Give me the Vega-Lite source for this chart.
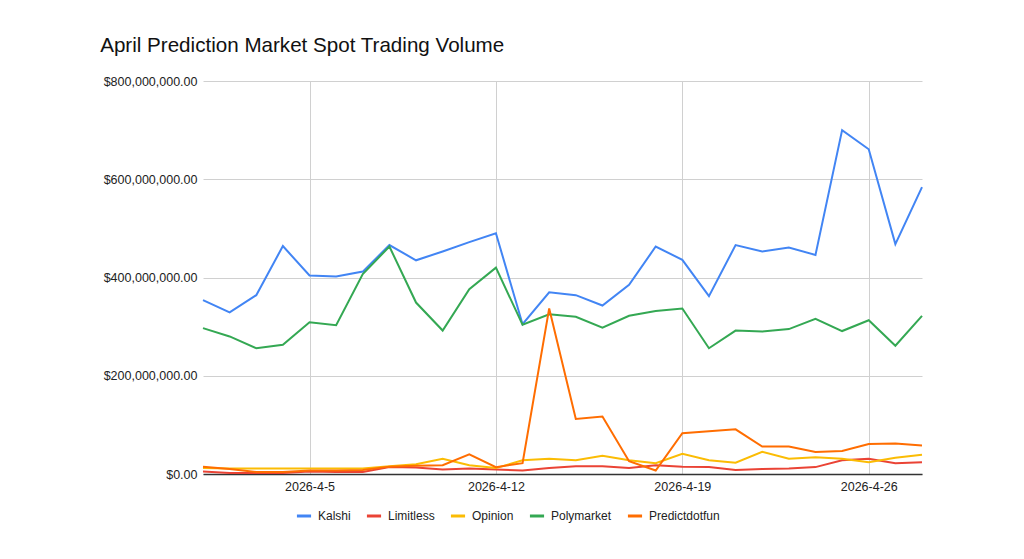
{
  "$schema": "https://vega.github.io/schema/vega-lite/v6.json",
  "width": 719,
  "height": 393,
  "autosize": {"type": "none"},
  "padding": {"left": 203, "top": 81, "right": 102, "bottom": 85},
  "background": "white",
  "title": {
    "text": "April Prediction Market Spot Trading Volume",
    "anchor": "start",
    "dx": -3,
    "offset": 18,
    "font": "Liberation Sans",
    "fontSize": 20.6,
    "fontWeight": "normal",
    "color": "#111"
  },
  "data": {
    "values": [
      {"date": "2026-04-01", "series": "Kalshi", "volume": 354000000},
      {"date": "2026-04-02", "series": "Kalshi", "volume": 329000000},
      {"date": "2026-04-03", "series": "Kalshi", "volume": 364000000},
      {"date": "2026-04-04", "series": "Kalshi", "volume": 464000000},
      {"date": "2026-04-05", "series": "Kalshi", "volume": 404000000},
      {"date": "2026-04-06", "series": "Kalshi", "volume": 402000000},
      {"date": "2026-04-07", "series": "Kalshi", "volume": 412000000},
      {"date": "2026-04-08", "series": "Kalshi", "volume": 466000000},
      {"date": "2026-04-09", "series": "Kalshi", "volume": 435000000},
      {"date": "2026-04-10", "series": "Kalshi", "volume": 453000000},
      {"date": "2026-04-11", "series": "Kalshi", "volume": 472000000},
      {"date": "2026-04-12", "series": "Kalshi", "volume": 490000000},
      {"date": "2026-04-13", "series": "Kalshi", "volume": 305000000},
      {"date": "2026-04-14", "series": "Kalshi", "volume": 370000000},
      {"date": "2026-04-15", "series": "Kalshi", "volume": 364000000},
      {"date": "2026-04-16", "series": "Kalshi", "volume": 343000000},
      {"date": "2026-04-17", "series": "Kalshi", "volume": 385000000},
      {"date": "2026-04-18", "series": "Kalshi", "volume": 463000000},
      {"date": "2026-04-19", "series": "Kalshi", "volume": 436000000},
      {"date": "2026-04-20", "series": "Kalshi", "volume": 362000000},
      {"date": "2026-04-21", "series": "Kalshi", "volume": 466000000},
      {"date": "2026-04-22", "series": "Kalshi", "volume": 453000000},
      {"date": "2026-04-23", "series": "Kalshi", "volume": 461000000},
      {"date": "2026-04-24", "series": "Kalshi", "volume": 446000000},
      {"date": "2026-04-25", "series": "Kalshi", "volume": 700000000},
      {"date": "2026-04-26", "series": "Kalshi", "volume": 661000000},
      {"date": "2026-04-27", "series": "Kalshi", "volume": 468000000},
      {"date": "2026-04-28", "series": "Kalshi", "volume": 584000000},
      {"date": "2026-04-01", "series": "Limitless", "volume": 5000000},
      {"date": "2026-04-02", "series": "Limitless", "volume": 2000000},
      {"date": "2026-04-03", "series": "Limitless", "volume": 2000000},
      {"date": "2026-04-04", "series": "Limitless", "volume": 2000000},
      {"date": "2026-04-05", "series": "Limitless", "volume": 5000000},
      {"date": "2026-04-06", "series": "Limitless", "volume": 4000000},
      {"date": "2026-04-07", "series": "Limitless", "volume": 4000000},
      {"date": "2026-04-08", "series": "Limitless", "volume": 14000000},
      {"date": "2026-04-09", "series": "Limitless", "volume": 13000000},
      {"date": "2026-04-10", "series": "Limitless", "volume": 9000000},
      {"date": "2026-04-11", "series": "Limitless", "volume": 11000000},
      {"date": "2026-04-12", "series": "Limitless", "volume": 9000000},
      {"date": "2026-04-13", "series": "Limitless", "volume": 7000000},
      {"date": "2026-04-14", "series": "Limitless", "volume": 12000000},
      {"date": "2026-04-15", "series": "Limitless", "volume": 16000000},
      {"date": "2026-04-16", "series": "Limitless", "volume": 16000000},
      {"date": "2026-04-17", "series": "Limitless", "volume": 12000000},
      {"date": "2026-04-18", "series": "Limitless", "volume": 18000000},
      {"date": "2026-04-19", "series": "Limitless", "volume": 15000000},
      {"date": "2026-04-20", "series": "Limitless", "volume": 14000000},
      {"date": "2026-04-21", "series": "Limitless", "volume": 8000000},
      {"date": "2026-04-22", "series": "Limitless", "volume": 10000000},
      {"date": "2026-04-23", "series": "Limitless", "volume": 11000000},
      {"date": "2026-04-24", "series": "Limitless", "volume": 14000000},
      {"date": "2026-04-25", "series": "Limitless", "volume": 28000000},
      {"date": "2026-04-26", "series": "Limitless", "volume": 31000000},
      {"date": "2026-04-27", "series": "Limitless", "volume": 22000000},
      {"date": "2026-04-28", "series": "Limitless", "volume": 24000000},
      {"date": "2026-04-01", "series": "Opinion", "volume": 12000000},
      {"date": "2026-04-02", "series": "Opinion", "volume": 11000000},
      {"date": "2026-04-03", "series": "Opinion", "volume": 11000000},
      {"date": "2026-04-04", "series": "Opinion", "volume": 11000000},
      {"date": "2026-04-05", "series": "Opinion", "volume": 11000000},
      {"date": "2026-04-06", "series": "Opinion", "volume": 11000000},
      {"date": "2026-04-07", "series": "Opinion", "volume": 11000000},
      {"date": "2026-04-08", "series": "Opinion", "volume": 16000000},
      {"date": "2026-04-09", "series": "Opinion", "volume": 20000000},
      {"date": "2026-04-10", "series": "Opinion", "volume": 31000000},
      {"date": "2026-04-11", "series": "Opinion", "volume": 18000000},
      {"date": "2026-04-12", "series": "Opinion", "volume": 12000000},
      {"date": "2026-04-13", "series": "Opinion", "volume": 28000000},
      {"date": "2026-04-14", "series": "Opinion", "volume": 31000000},
      {"date": "2026-04-15", "series": "Opinion", "volume": 28000000},
      {"date": "2026-04-16", "series": "Opinion", "volume": 37000000},
      {"date": "2026-04-17", "series": "Opinion", "volume": 28000000},
      {"date": "2026-04-18", "series": "Opinion", "volume": 22000000},
      {"date": "2026-04-19", "series": "Opinion", "volume": 41000000},
      {"date": "2026-04-20", "series": "Opinion", "volume": 28000000},
      {"date": "2026-04-21", "series": "Opinion", "volume": 23000000},
      {"date": "2026-04-22", "series": "Opinion", "volume": 45000000},
      {"date": "2026-04-23", "series": "Opinion", "volume": 31000000},
      {"date": "2026-04-24", "series": "Opinion", "volume": 34000000},
      {"date": "2026-04-25", "series": "Opinion", "volume": 31000000},
      {"date": "2026-04-26", "series": "Opinion", "volume": 24000000},
      {"date": "2026-04-27", "series": "Opinion", "volume": 33000000},
      {"date": "2026-04-28", "series": "Opinion", "volume": 39000000},
      {"date": "2026-04-01", "series": "Polymarket", "volume": 297000000},
      {"date": "2026-04-02", "series": "Polymarket", "volume": 280000000},
      {"date": "2026-04-03", "series": "Polymarket", "volume": 256000000},
      {"date": "2026-04-04", "series": "Polymarket", "volume": 263000000},
      {"date": "2026-04-05", "series": "Polymarket", "volume": 309000000},
      {"date": "2026-04-06", "series": "Polymarket", "volume": 303000000},
      {"date": "2026-04-07", "series": "Polymarket", "volume": 407000000},
      {"date": "2026-04-08", "series": "Polymarket", "volume": 463000000},
      {"date": "2026-04-09", "series": "Polymarket", "volume": 349000000},
      {"date": "2026-04-10", "series": "Polymarket", "volume": 292000000},
      {"date": "2026-04-11", "series": "Polymarket", "volume": 376000000},
      {"date": "2026-04-12", "series": "Polymarket", "volume": 420000000},
      {"date": "2026-04-13", "series": "Polymarket", "volume": 304000000},
      {"date": "2026-04-14", "series": "Polymarket", "volume": 325000000},
      {"date": "2026-04-15", "series": "Polymarket", "volume": 320000000},
      {"date": "2026-04-16", "series": "Polymarket", "volume": 298000000},
      {"date": "2026-04-17", "series": "Polymarket", "volume": 322000000},
      {"date": "2026-04-18", "series": "Polymarket", "volume": 332000000},
      {"date": "2026-04-19", "series": "Polymarket", "volume": 337000000},
      {"date": "2026-04-20", "series": "Polymarket", "volume": 256000000},
      {"date": "2026-04-21", "series": "Polymarket", "volume": 292000000},
      {"date": "2026-04-22", "series": "Polymarket", "volume": 290000000},
      {"date": "2026-04-23", "series": "Polymarket", "volume": 295000000},
      {"date": "2026-04-24", "series": "Polymarket", "volume": 316000000},
      {"date": "2026-04-25", "series": "Polymarket", "volume": 291000000},
      {"date": "2026-04-26", "series": "Polymarket", "volume": 313000000},
      {"date": "2026-04-27", "series": "Polymarket", "volume": 261000000},
      {"date": "2026-04-28", "series": "Polymarket", "volume": 322000000},
      {"date": "2026-04-01", "series": "Predictdotfun", "volume": 15000000},
      {"date": "2026-04-02", "series": "Predictdotfun", "volume": 10000000},
      {"date": "2026-04-03", "series": "Predictdotfun", "volume": 4000000},
      {"date": "2026-04-04", "series": "Predictdotfun", "volume": 4000000},
      {"date": "2026-04-05", "series": "Predictdotfun", "volume": 7000000},
      {"date": "2026-04-06", "series": "Predictdotfun", "volume": 7000000},
      {"date": "2026-04-07", "series": "Predictdotfun", "volume": 8000000},
      {"date": "2026-04-08", "series": "Predictdotfun", "volume": 15000000},
      {"date": "2026-04-09", "series": "Predictdotfun", "volume": 17000000},
      {"date": "2026-04-10", "series": "Predictdotfun", "volume": 18000000},
      {"date": "2026-04-11", "series": "Predictdotfun", "volume": 40000000},
      {"date": "2026-04-12", "series": "Predictdotfun", "volume": 14000000},
      {"date": "2026-04-13", "series": "Predictdotfun", "volume": 22000000},
      {"date": "2026-04-14", "series": "Predictdotfun", "volume": 337000000},
      {"date": "2026-04-15", "series": "Predictdotfun", "volume": 112000000},
      {"date": "2026-04-16", "series": "Predictdotfun", "volume": 117000000},
      {"date": "2026-04-17", "series": "Predictdotfun", "volume": 26000000},
      {"date": "2026-04-18", "series": "Predictdotfun", "volume": 7000000},
      {"date": "2026-04-19", "series": "Predictdotfun", "volume": 83000000},
      {"date": "2026-04-20", "series": "Predictdotfun", "volume": 87000000},
      {"date": "2026-04-21", "series": "Predictdotfun", "volume": 91000000},
      {"date": "2026-04-22", "series": "Predictdotfun", "volume": 56000000},
      {"date": "2026-04-23", "series": "Predictdotfun", "volume": 56000000},
      {"date": "2026-04-24", "series": "Predictdotfun", "volume": 45000000},
      {"date": "2026-04-25", "series": "Predictdotfun", "volume": 47000000},
      {"date": "2026-04-26", "series": "Predictdotfun", "volume": 61000000},
      {"date": "2026-04-27", "series": "Predictdotfun", "volume": 62000000},
      {"date": "2026-04-28", "series": "Predictdotfun", "volume": 58000000}
    ]
  },
  "mark": {"type": "line", "strokeWidth": 2},
  "encoding": {
    "x": {
      "field": "date",
      "type": "temporal",
      "scale": {
        "type": "utc",
        "domain": [
          {"year": 2026, "month": 4, "date": 1, "utc": true},
          {"year": 2026, "month": 4, "date": 28, "utc": true}
        ]
      },
      "axis": {
        "title": null,
        "values": [
          {"year": 2026, "month": 4, "date": 5, "utc": true},
          {"year": 2026, "month": 4, "date": 12, "utc": true},
          {"year": 2026, "month": 4, "date": 19, "utc": true},
          {"year": 2026, "month": 4, "date": 26, "utc": true}
        ],
        "labelExpr": "utcFormat(datum.value, '%Y-%-m-%-d')",
        "grid": true,
        "gridColor": "#d0d0d0",
        "ticks": false,
        "domainColor": "#333",
        "domainWidth": 1.3,
        "labelFont": "Liberation Sans",
        "labelFontSize": 12.5,
        "labelColor": "#222",
        "labelPadding": 6
      }
    },
    "y": {
      "field": "volume",
      "type": "quantitative",
      "scale": {"domain": [0, 800000000]},
      "axis": {
        "title": null,
        "values": [0, 200000000, 400000000, 600000000, 800000000],
        "format": "$,.2f",
        "domain": false,
        "ticks": false,
        "gridColor": "#d0d0d0",
        "labelFont": "Liberation Sans",
        "labelFontSize": 12.5,
        "labelColor": "#222",
        "labelPadding": 6
      }
    },
    "color": {
      "field": "series",
      "type": "nominal",
      "scale": {
        "domain": ["Kalshi", "Limitless", "Opinion", "Polymarket", "Predictdotfun"],
        "range": ["#4285f4", "#ea4335", "#fbbc04", "#34a853", "#ff6d01"]
      },
      "legend": {
        "orient": "none",
        "legendX": 92,
        "legendY": 426,
        "direction": "horizontal",
        "title": null,
        "symbolType": "stroke",
        "symbolStrokeWidth": 3,
        "symbolSize": 200,
        "labelFont": "Liberation Sans",
        "labelFontSize": 12,
        "labelColor": "#222",
        "labelOffset": 5,
        "columnPadding": 9
      }
    }
  },
  "config": {"view": {"stroke": null}}
}
